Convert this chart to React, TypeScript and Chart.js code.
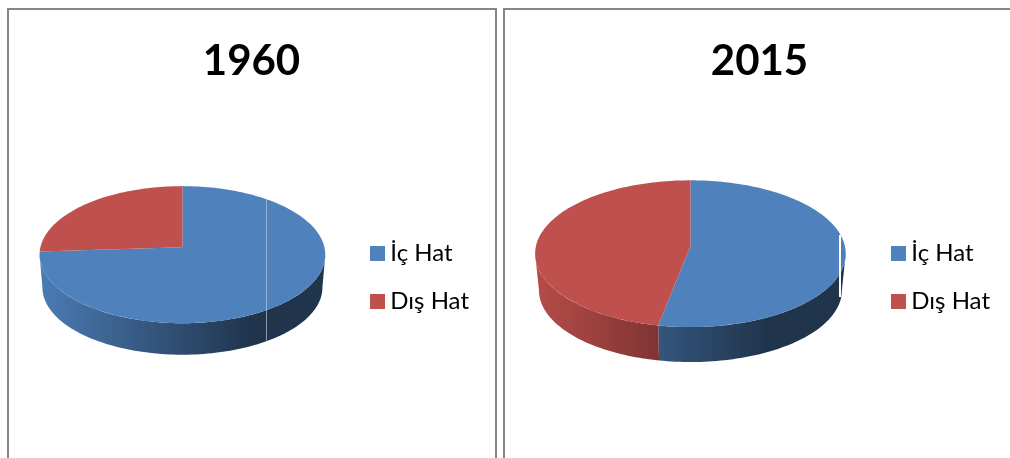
import React, { useEffect, useRef } from "react";
import { Chart, PieController, registerables } from "chart.js";

const categories = ["İç Hat", "Dış Hat"];
const shares1960 = [74, 26];
const shares2015 = [53, 47];
const sliceColors = ["#4F81BD", "#C0504D"];
const borderColor = "#868686";
const fontFamily = "Lato, Carlito, sans-serif";

type Rgb = [number, number, number];

function toRgb(hex: string): Rgb {
  const n = parseInt(hex.slice(1), 16);
  return [(n >> 16) & 255, (n >> 8) & 255, n & 255];
}

function shade(rgb: Rgb, f: number): string {
  return `rgb(${rgb.map((c) => Math.round(c * f)).join(",")})`;
}

// Pie drawn as a tilted disc seen in perspective: library-computed arc angles,
// projected onto a receding plane, with a shaded rim below the front edge.
class Pie3DController extends PieController {
  static id = "pie3d";

  draw() {
    const ctx = this.chart.ctx;
    const arcs: any[] = this.getMeta().data as any[];
    const ds: any = this.getDataset();
    const { tilt, recede, drift, lift, depth, baseScale } = ds.disc;

    const point = (arc: any, a: number, lower: boolean) => {
      const r = arc.outerRadius * (lower ? baseScale : 1);
      const w = 1 - recede * Math.sin(a);
      return [
        arc.x + drift + (r * Math.cos(a)) / w,
        arc.y + lift + (lower ? depth : 0) + (r * tilt * Math.sin(a)) / w,
      ];
    };

    const trace = (arc: any, from: number, to: number, lower: boolean, first: boolean) => {
      const steps = Math.max(2, Math.ceil(Math.abs(to - from) * 40));
      for (let i = 0; i <= steps; i++) {
        const [x, y] = point(arc, from + ((to - from) * i) / steps, lower);
        if (i === 0 && first) ctx.moveTo(x, y);
        else ctx.lineTo(x, y);
      }
    };

    const frontFrom = Math.asin(recede);
    const frontTo = Math.PI - frontFrom;

    ctx.save();
    // Rim first, so the top faces cover its upper edge.
    arcs.forEach((arc, i) => {
      const from = Math.max(arc.startAngle, frontFrom);
      const to = Math.min(arc.endAngle, frontTo);
      if (to <= from) return;
      const rgb = toRgb(sliceColors[i]);
      const grad = ctx.createLinearGradient(
        arc.x + drift - arc.outerRadius,
        0,
        arc.x + drift + arc.outerRadius,
        0
      );
      grad.addColorStop(0, shade(rgb, 0.95));
      grad.addColorStop(0.75, shade(rgb, 0.4));
      grad.addColorStop(1, shade(rgb, 0.4));
      ctx.beginPath();
      trace(arc, from, to, false, true);
      trace(arc, to, from, true, false);
      ctx.closePath();
      ctx.fillStyle = grad;
      ctx.fill();
    });
    arcs.forEach((arc, i) => {
      ctx.beginPath();
      ctx.moveTo(arc.x + drift, arc.y + lift);
      trace(arc, arc.startAngle, arc.endAngle, false, false);
      ctx.closePath();
      ctx.fillStyle = sliceColors[i];
      ctx.fill();
    });
    ctx.restore();
  }
}

Chart.register(...registerables, Pie3DController);

// A thin vertical render seam crossing the disc.
const seamPlugin = {
  id: "seam",
  afterDatasetsDraw(chart: any, _args: any, opts: any) {
    if (!opts || opts.x === undefined) return;
    const { ctx } = chart;
    ctx.save();
    ctx.fillStyle = opts.color;
    ctx.fillRect(opts.x, opts.top, opts.width, opts.bottom - opts.top);
    ctx.restore();
  },
};

function swatch(color: string): HTMLCanvasElement {
  const c = document.createElement("canvas");
  c.width = 15;
  c.height = 15;
  const g = c.getContext("2d")!;
  g.fillStyle = color;
  g.fillRect(0, 0, 15, 15);
  return c;
}

type PieProps = {
  title: string;
  values: number[];
  left: number;
  width: number;
  radius: number;
  padLeft: number;
  padRight: number;
  disc: { tilt: number; recede: number; drift: number; lift: number; depth: number; baseScale: number };
  seam: { x: number; top: number; bottom: number; width: number; color: string };
};

function DiscChart({ title, values, left, width, radius, padLeft, padRight, disc, seam }: PieProps) {
  const ref = useRef<HTMLCanvasElement>(null);
  useEffect(() => {
    const chart = new Chart(ref.current!, {
      type: "pie3d" as any,
      data: {
        labels: categories,
        datasets: [
          {
            data: values,
            backgroundColor: sliceColors,
            borderWidth: 0,
            radius,
            clip: false,
            disc,
          } as any,
        ],
      },
      options: {
        responsive: false,
        animation: false,
        layout: { padding: { left: padLeft, right: padRight, top: 0, bottom: 4 } },
        plugins: {
          title: {
            display: true,
            text: title,
            color: "#000000",
            font: { family: fontFamily, size: 42, weight: "bold", lineHeight: 1.2 },
            padding: { top: 36, bottom: 14 },
          },
          legend: {
            position: "right",
            fullSize: false,
            labels: {
              color: "#000000",
              font: { family: fontFamily, size: 24, lineHeight: 1.2 },
              padding: 24,
              boxWidth: 15,
              boxHeight: 15,
              usePointStyle: true,
              pointStyleWidth: 2,
              generateLabels: () =>
                categories.map((text, i) => ({
                  text,
                  pointStyle: swatch(sliceColors[i]),
                  fillStyle: sliceColors[i],
                  strokeStyle: sliceColors[i],
                  lineWidth: 0,
                  hidden: false,
                  index: i,
                })),
            },
          },
          tooltip: { enabled: false },
          seam,
        } as any,
      },
      plugins: [seamPlugin],
    } as any);
    return () => chart.destroy();
  }, []);
  return (
    <canvas
      ref={ref}
      width={width}
      height={458}
      style={{ position: "absolute", left, top: 0, display: "block" }}
    />
  );
}

function Panel({ left, width }: { left: number; width: number }) {
  return (
    <div
      style={{
        position: "absolute",
        left,
        top: 8,
        width,
        height: 500,
        boxSizing: "border-box",
        border: `2px solid ${borderColor}`,
      }}
    />
  );
}

export default function App() {
  return (
    <div
      style={{
        position: "fixed",
        left: 0,
        top: 0,
        width: 1010,
        height: 458,
        overflow: "hidden",
        background: "#ffffff",
      }}
    >
      <Panel left={7} width={490} />
      <Panel left={503} width={560} />
      <DiscChart
        title="1960"
        values={shares1960}
        left={0}
        width={500}
        radius={142}
        padLeft={24}
        padRight={21}
        disc={{ tilt: 0.477, recede: 0.109, drift: -5.75, lift: -30, depth: 33, baseScale: 0.98 }}
        seam={{ x: 266, top: 200, bottom: 341, width: 1, color: "rgba(190,208,230,0.65)" }}
      />
      <DiscChart
        title="2015"
        values={shares2015}
        left={500}
        width={510}
        radius={154.5}
        padLeft={19}
        padRight={10}
        disc={{ tilt: 0.47, recede: 0.102, drift: -5.75, lift: -31, depth: 37, baseScale: 0.975 }}
        seam={{ x: 339, top: 235, bottom: 297, width: 2, color: "#ffffff" }}
      />
    </div>
  );
}
